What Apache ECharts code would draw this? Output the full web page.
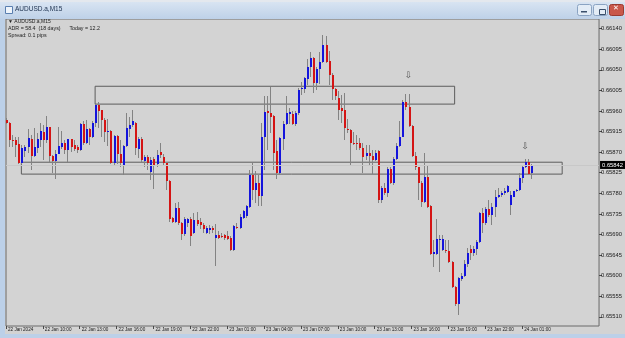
<!DOCTYPE html>
<html><head><meta charset="utf-8">
<script src="https://cdn.jsdelivr.net/npm/echarts@6/dist/echarts.min.js"></script>
<style>html,body{margin:0;padding:0;background:#d3d3d3;}#c{width:625px;height:338px;}</style>
</head><body><div id="c"></div>
<script>
// ---- data (AUDUSD.a, M15) ----
var startTime = '2024-01-22T07:00:00Z';
var opens = [0.65940,0.65933,0.65897,0.65897,0.65888,0.65847,0.65873,0.65881,0.65899,0.65862,
0.65880,0.65897,0.65915,0.65897,0.65924,0.65862,0.65851,0.65867,0.65882,0.65891,
0.65875,0.65898,0.65885,0.65881,0.65875,0.65931,0.65891,0.65920,0.65902,0.65933,
0.65974,0.65962,0.65940,0.65915,0.65917,0.65846,0.65905,0.65867,0.65840,0.65883,
0.65921,0.65929,0.65934,0.65876,0.65899,0.65851,0.65860,0.65827,0.65854,0.65844,
0.65870,0.65860,0.65847,0.65807,0.65725,0.65718,0.65747,0.65715,0.65692,0.65715,
0.65723,0.65694,0.65721,0.65717,0.65710,0.65694,0.65699,0.65705,0.65683,0.65688,
0.65686,0.65688,0.65686,0.65683,0.65656,0.65707,0.65704,0.65726,0.65730,0.65750,
0.65821,0.65788,0.65803,0.65775,0.65903,0.65959,0.65955,0.65949,0.65872,0.65824,
0.65899,0.65932,0.65954,0.65954,0.65931,0.65955,0.66008,0.66008,0.66029,0.66056,
0.66075,0.66021,0.66052,0.66066,0.66104,0.66069,0.66039,0.66008,0.65988,0.65966,
0.65963,0.65921,0.65919,0.65891,0.65890,0.65890,0.65879,0.65861,0.65868,0.65862,
0.65853,0.65872,0.65766,0.65791,0.65780,0.65834,0.65803,0.65854,0.65883,0.65904,
0.65979,0.65969,0.65927,0.65862,0.65837,0.65802,0.65762,0.65815,0.65753,0.65648,
0.65648,0.65678,0.65657,0.65657,0.65654,0.65630,0.65575,0.65537,0.65593,0.65600,
0.65626,0.65659,0.65649,0.65659,0.65673,0.65737,0.65715,0.65746,0.65733,0.65751,
0.65773,0.65777,0.65780,0.65782,0.65755,0.65773,0.65784,0.65787,0.65813,0.65837,
0.65849,0.65825];
var highs = [0.65944,0.65936,0.65907,0.65904,0.65902,0.65886,0.65886,0.65920,0.65907,0.65922,
0.65911,0.65933,0.65929,0.65949,0.65926,0.65864,0.65875,0.65924,0.65917,0.65897,
0.65899,0.65899,0.65897,0.65886,0.65934,0.65938,0.65940,0.65922,0.65938,0.65975,
0.65980,0.65963,0.65944,0.65942,0.65918,0.65907,0.65907,0.65897,0.65886,0.65956,
0.65947,0.65963,0.65936,0.65902,0.65902,0.65864,0.65864,0.65860,0.65860,0.65875,
0.65891,0.65867,0.65849,0.65809,0.65729,0.65758,0.65760,0.65718,0.65729,0.65726,
0.65729,0.65737,0.65739,0.65726,0.65715,0.65708,0.65710,0.65708,0.65714,0.65697,
0.65694,0.65692,0.65697,0.65686,0.65710,0.65715,0.65734,0.65744,0.65755,0.65832,
0.65846,0.65828,0.65821,0.65933,0.65992,0.65992,0.66013,0.65952,0.65897,0.65904,
0.65937,0.65992,0.65966,0.65959,0.65959,0.66010,0.66024,0.66035,0.66073,0.66088,
0.66077,0.66056,0.66088,0.66126,0.66124,0.66092,0.66042,0.66010,0.66003,0.65995,
0.65999,0.65942,0.65920,0.65915,0.65908,0.65901,0.65890,0.65886,0.65886,0.65875,
0.65875,0.65875,0.65795,0.65802,0.65837,0.65838,0.65860,0.65889,0.65937,0.65984,
0.65998,0.65998,0.65929,0.65871,0.65838,0.65806,0.65869,0.65842,0.65754,0.65678,
0.65723,0.65689,0.65689,0.65678,0.65678,0.65631,0.65577,0.65598,0.65606,0.65635,
0.65660,0.65668,0.65664,0.65678,0.65740,0.65747,0.65751,0.65766,0.65758,0.65787,
0.65791,0.65784,0.65791,0.65798,0.65784,0.65786,0.65789,0.65824,0.65842,0.65854,
0.65854,0.65844];
var lows = [0.65931,0.65881,0.65881,0.65859,0.65844,0.65844,0.65860,0.65869,0.65831,0.65859,
0.65869,0.65881,0.65853,0.65889,0.65849,0.65825,0.65811,0.65866,0.65876,0.65867,
0.65849,0.65871,0.65873,0.65869,0.65872,0.65886,0.65888,0.65885,0.65900,0.65926,
0.65922,0.65904,0.65893,0.65883,0.65844,0.65842,0.65844,0.65838,0.65820,0.65881,
0.65904,0.65926,0.65864,0.65857,0.65849,0.65838,0.65831,0.65809,0.65789,0.65837,
0.65857,0.65842,0.65787,0.65718,0.65715,0.65715,0.65711,0.65677,0.65687,0.65707,
0.65664,0.65690,0.65708,0.65701,0.65694,0.65692,0.65692,0.65694,0.65621,0.65680,
0.65683,0.65679,0.65678,0.65654,0.65654,0.65702,0.65701,0.65723,0.65726,0.65748,
0.65766,0.65759,0.65752,0.65752,0.65832,0.65875,0.65912,0.65832,0.65811,0.65821,
0.65875,0.65930,0.65932,0.65930,0.65928,0.65952,0.65995,0.65999,0.66017,0.66035,
0.65999,0.66006,0.66019,0.66064,0.66064,0.66017,0.65984,0.65983,0.65941,0.65933,
0.65896,0.65912,0.65840,0.65886,0.65875,0.65875,0.65824,0.65853,0.65839,0.65823,
0.65850,0.65759,0.65758,0.65777,0.65773,0.65801,0.65798,0.65853,0.65881,0.65902,
0.65962,0.65926,0.65860,0.65831,0.65766,0.65751,0.65758,0.65747,0.65646,0.65620,
0.65646,0.65609,0.65653,0.65649,0.65628,0.65573,0.65534,0.65515,0.65588,0.65597,
0.65620,0.65635,0.65642,0.65646,0.65671,0.65693,0.65711,0.65729,0.65711,0.65729,
0.65769,0.65773,0.65777,0.65780,0.65733,0.65771,0.65782,0.65786,0.65803,0.65835,
0.65820,0.65811];
var closes = [0.65933,0.65897,0.65895,0.65886,0.65846,0.65878,0.65882,0.65900,0.65862,0.65881,
0.65899,0.65916,0.65897,0.65924,0.65862,0.65851,0.65867,0.65883,0.65890,0.65875,
0.65898,0.65881,0.65876,0.65875,0.65931,0.65891,0.65921,0.65902,0.65933,0.65974,
0.65960,0.65940,0.65915,0.65916,0.65846,0.65905,0.65867,0.65846,0.65883,0.65923,
0.65929,0.65937,0.65878,0.65899,0.65853,0.65860,0.65846,0.65853,0.65840,0.65864,
0.65864,0.65847,0.65807,0.65723,0.65718,0.65747,0.65715,0.65692,0.65723,0.65723,
0.65686,0.65721,0.65714,0.65710,0.65702,0.65704,0.65705,0.65699,0.65688,0.65683,
0.65685,0.65682,0.65680,0.65656,0.65708,0.65704,0.65728,0.65741,0.65752,0.65821,
0.65788,0.65803,0.65775,0.65903,0.65957,0.65955,0.65947,0.65869,0.65824,0.65901,
0.65932,0.65955,0.65957,0.65931,0.65955,0.66006,0.66010,0.66032,0.66056,0.66075,
0.66021,0.66052,0.66066,0.66104,0.66066,0.66039,0.66008,0.65992,0.65963,0.65960,
0.65923,0.65919,0.65891,0.65890,0.65889,0.65879,0.65859,0.65868,0.65862,0.65853,
0.65869,0.65766,0.65791,0.65780,0.65834,0.65803,0.65854,0.65883,0.65904,0.65979,
0.65969,0.65927,0.65862,0.65837,0.65802,0.65762,0.65815,0.65751,0.65648,0.65651,
0.65681,0.65681,0.65681,0.65653,0.65630,0.65575,0.65537,0.65595,0.65600,0.65626,
0.65649,0.65649,0.65659,0.65673,0.65737,0.65715,0.65746,0.65733,0.65751,0.65773,
0.65777,0.65780,0.65784,0.65795,0.65777,0.65784,0.65787,0.65813,0.65838,0.65849,
0.65822,0.65842];
var priceTicks = [0.66140,0.66095,0.66050,0.66005,0.65960,0.65915,0.65870,0.65825,0.65780,0.65735,0.65690,0.65645,0.65600,0.65555,0.65510];
var timeTicks = ['22 Jan 2024','22 Jan 10:00','22 Jan 13:00','22 Jan 16:00','22 Jan 19:00','22 Jan 22:00','23 Jan 01:00','23 Jan 04:00','23 Jan 07:00','23 Jan 10:00','23 Jan 13:00','23 Jan 16:00','23 Jan 19:00','23 Jan 22:00','24 Jan 01:00'];
var barsPerTick = 12;
var currentPrice = 0.65842;
// rectangle objects: [fromBar, topPrice, toBar, bottomPrice]
var zones = [[29,0.66014,146,0.65975],[5,0.65848,181,0.65822]];
// arrow objects: [bar, price]
var arrows = [[131,0.66038],[169,0.65881]];
var totalSlots = 194;

// ---- build ----
var cats = [];
var t0 = Date.parse(startTime);
var mon = ['Jan','Feb','Mar','Apr','May','Jun','Jul','Aug','Sep','Oct','Nov','Dec'];
for (var k = 0; k < totalSlots; k++) {
  var d = new Date(t0 + k * 900000);
  cats.push(d.getUTCDate() + ' ' + mon[d.getUTCMonth()] + ' ' + String(d.getUTCHours()).padStart(2,'0') + ':' + String(d.getUTCMinutes()).padStart(2,'0'));
}
var data = opens.map(function (o, i) { return [i, o, closes[i], lows[i], highs[i]]; });

function renderItem(params, api) {
  var idx = api.value(0);
  var o = api.value(1), c = api.value(2), l = api.value(3), h = api.value(4);
  var pO = api.coord([idx, o]), pC = api.coord([idx, c]);
  var pH = api.coord([idx, h]), pL = api.coord([idx, l]);
  var x = Math.round(pO[0]);
  var up = c >= o;
  var yTop = Math.round(Math.min(pO[1], pC[1]));
  var yBot = Math.round(Math.max(pO[1], pC[1]));
  if (yBot - yTop < 1) yBot = yTop + 1;
  var fill = up ? '#1414dc' : '#d41414';
  var ch = [
    {type: 'line', shape: {x1: x + 0.5, y1: Math.round(pH[1]), x2: x + 0.5, y2: Math.round(pL[1])}, style: {stroke: '#838383', lineWidth: 1}},
    {type: 'rect', shape: {x: x, y: yTop, width: 2, height: yBot - yTop}, style: {fill: fill}}
  ];
  return {type: 'group', children: ch};
}

var FONT = 'Liberation Sans';
var chart = echarts.init(document.getElementById('c'), null, {renderer: 'canvas'});
chart.setOption({
  animation: false,
  backgroundColor: '#d3d3d3',
  grid: {left: 6, right: 24, top: 19, bottom: 12, show: true, borderColor: '#6a6a6a', borderWidth: 1, backgroundColor: '#d3d3d3'},
  xAxis: {
    type: 'category', data: cats, boundaryGap: false,
    axisLine: {show: false},
    axisTick: {show: true, length: 3, interval: function (i) { return i % barsPerTick === 0 && i / barsPerTick < timeTicks.length; }, lineStyle: {color: '#4a4a4a'}},
    axisLabel: {
      interval: function (i) { return i % barsPerTick === 0 && i / barsPerTick < timeTicks.length; },
      formatter: function (v, i) { return timeTicks[i / barsPerTick] || ''; },
      align: 'left', padding: [0, 0, 0, 2], margin: 1.5, fontSize: 4.6, color: '#1a1a1a', fontFamily: FONT
    },
    splitLine: {show: false}
  },
  yAxis: {
    type: 'value', position: 'right', min: 0.65490, max: 0.66161, scale: true,
    splitLine: {show: false}, axisLine: {show: false},
    axisTick: {show: true, customValues: priceTicks, length: 3, lineStyle: {color: '#4a4a4a'}},
    axisLabel: {customValues: priceTicks, formatter: function (v) { return v.toFixed(5); }, fontSize: 5.8, color: '#1a1a1a', fontFamily: FONT, margin: 2}
  },
  series: [{
    type: 'custom', renderItem: renderItem, data: data, clip: false,
    encode: {x: 0, y: [1, 2, 3, 4]},
    markArea: {
      silent: true,
      itemStyle: {color: 'rgba(0,0,0,0)', borderColor: '#5c5c5c', borderWidth: 1},
      data: zones.map(function (z) { return [{coord: [z[0], z[1]]}, {coord: [z[2], z[3]]}]; })
    },
    markLine: {
      silent: true, symbol: 'none', animation: false,
      lineStyle: {color: '#c8c8c8', width: 1, type: 'solid'},
      label: {show: true, position: 'end', formatter: currentPrice.toFixed(5), backgroundColor: '#000', color: '#fff', fontSize: 5.8, fontFamily: FONT, padding: [1, 2, 1, 2], distance: 1},
      data: [[{coord: [0, currentPrice]}, {coord: [totalSlots - 1, currentPrice]}]]
    },
    markPoint: {
      silent: true, symbol: 'circle', symbolSize: 1, itemStyle: {color: 'rgba(0,0,0,0)'},
      label: {show: true, position: 'inside', formatter: '\u21e9', color: '#555', fontSize: 9, fontFamily: 'DejaVu Sans'},
      data: arrows.map(function (a) { return {coord: [a[0], a[1]]}; })
    }
  }],
  graphic: [
    {type: 'rect', left: 0, top: 0, shape: {width: 625, height: 19}, style: {fill: new echarts.graphic.LinearGradient(0, 0, 0, 1, [{offset: 0, color: '#dbe6f3'}, {offset: 1, color: '#bed1e8'}])}},
    {type: 'rect', left: 0, top: 0, shape: {width: 625, height: 2}, style: {fill: '#e4e8ee'}},
    {type: 'rect', left: 0, top: 19, shape: {width: 5, height: 319}, style: {fill: '#bcd0e8'}},
    {type: 'rect', left: 0, top: 334, shape: {width: 625, height: 4}, style: {fill: '#bcd0e8'}},
    {type: 'rect', left: 5, top: 6, shape: {width: 7, height: 7}, style: {fill: '#eef4fb', stroke: '#5a7fb0', lineWidth: 1}},
    {type: 'text', left: 15, top: 6, style: {text: 'AUDUSD.a,M15', fontSize: 6.5, fill: '#1b2f4d', fontFamily: FONT}},
    {type: 'rect', left: 577, top: 4, shape: {width: 14, height: 11, r: 2}, style: {fill: '#e3ecf6', stroke: '#8aa3c2', lineWidth: 1}},
    {type: 'rect', left: 581, top: 11, shape: {width: 6, height: 1.5}, style: {fill: '#3a4f6b'}},
    {type: 'rect', left: 593, top: 4, shape: {width: 14, height: 11, r: 2}, style: {fill: '#e3ecf6', stroke: '#8aa3c2', lineWidth: 1}},
    {type: 'rect', left: 597, top: 7, shape: {width: 6, height: 5}, style: {fill: 'none', stroke: '#3a4f6b', lineWidth: 1}},
    {type: 'rect', left: 609, top: 4, shape: {width: 14, height: 11, r: 2}, style: {fill: '#c9574a', stroke: '#9a3a30', lineWidth: 1}},
    {type: 'text', left: 613, top: 5, style: {text: '\u2715', fontSize: 7, fill: '#fff', fontFamily: 'DejaVu Sans'}},
    {type: 'text', left: 8, top: 19, style: {text: '\u25bc AUDUSD.a,M15', fontSize: 5, fill: '#222', fontFamily: FONT}},
    {type: 'text', left: 8, top: 26.5, style: {text: 'ADR = 58.4  (18 days)      Today = 12.2', fontSize: 5.3, fill: '#222', fontFamily: FONT}},
    {type: 'text', left: 8, top: 33, style: {text: 'Spread: 0.1 pips', fontSize: 5.3, fill: '#222', fontFamily: FONT}}
  ]
});
</script></body></html>
